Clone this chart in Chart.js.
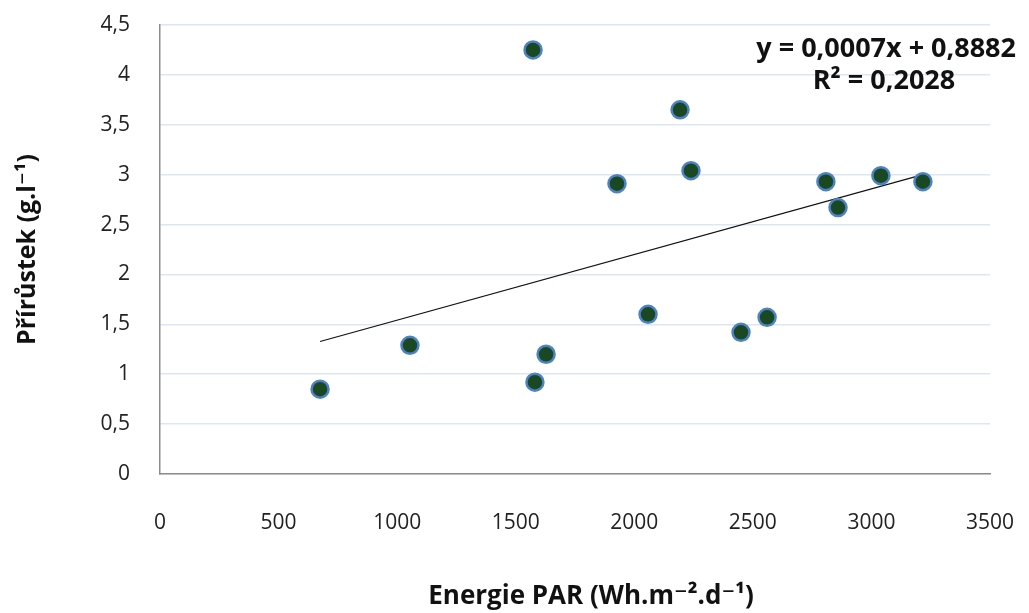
<!DOCTYPE html>
<html>
<head>
<meta charset="utf-8">
<script src="https://cdn.jsdelivr.net/npm/chart.js@4/dist/chart.umd.min.js"></script>
<style>
  html, body { margin: 0; padding: 0; background: #fff; }
  #wrap { width: 1029px; height: 613px; position: relative; }
</style>
</head>
<body>
<div id="wrap"><canvas id="par" width="1029" height="613"></canvas></div>
<script>
// energie PAR vs. prirustek
const energie = [1573, 2193, 1927, 2239, 2808, 2859, 3040, 3217, 2058, 2450, 2560, 1054, 1628, 1581, 675];
const prirustek = [4.25, 3.65, 2.91, 3.04, 2.93, 2.67, 2.99, 2.93, 1.60, 1.42, 1.57, 1.29, 1.20, 0.92, 0.85];
const rovnice = ['y = 0,0007x + 0,8882', 'R² = 0,2028'];
const osaX = 'Energie PAR (Wh.m⁻².d⁻¹)';
const osaY = 'Přírůstek (g.l⁻¹)';

const FONT = "'Open Sans', 'DejaVu Sans', sans-serif";

// least squares line through the points
function fitLine(xs, ys) {
  const n = xs.length;
  const mx = xs.reduce((a, b) => a + b, 0) / n;
  const my = ys.reduce((a, b) => a + b, 0) / n;
  let sxy = 0, sxx = 0;
  for (let i = 0; i < n; i++) {
    sxy += (xs[i] - mx) * (ys[i] - my);
    sxx += (xs[i] - mx) * (xs[i] - mx);
  }
  const k = sxy / sxx;
  return { k: k, q: my - k * mx };
}

const fit = fitLine(energie, prirustek);
const xMin = Math.min(...energie), xMax = Math.max(...energie);
const trend = [
  { x: xMin, y: fit.k * xMin + fit.q },
  { x: xMax, y: fit.k * xMax + fit.q }
];

const points = energie.map((x, i) => ({ x: x, y: prirustek[i] }));

// trendline equation + x axis title (sits a bit right of the axis centre)
const extraText = {
  id: 'extraText',
  afterDatasetsDraw(chart) {
    const ctx = chart.ctx;
    ctx.save();
    ctx.fillStyle = '#111';
    ctx.font = 'bold 27px ' + FONT;
    ctx.textBaseline = 'alphabetic';
    ctx.textAlign = 'right';
    ctx.fillText(rovnice[0], 1016, 57);
    ctx.textAlign = 'center';
    ctx.fillText(rovnice[1], 884, 89);

    ctx.font = 'bold 26px ' + FONT;
    ctx.textBaseline = 'middle';
    ctx.fillText(osaX, 591, 597);
    ctx.restore();
  }
};

const comma = v => String(v).replace('.', ',');

new Chart(document.getElementById('par'), {
  type: 'scatter',
  data: {
    datasets: [
      {
        label: 'Přírůstek',
        data: points,
        pointRadius: 8.5,
        pointBorderWidth: 2.5,
        pointBackgroundColor: '#1a4822',
        pointBorderColor: '#4d82c4',
        order: 1
      },
      {
        label: 'trend',
        type: 'line',
        data: trend,
        borderColor: '#111',
        borderWidth: 1.2,
        pointRadius: 0,
        fill: false,
        order: 2
      }
    ]
  },
  options: {
    responsive: false,
    animation: false,
    devicePixelRatio: 1,
    layout: { padding: { top: 25, right: 39, bottom: 0, left: 0 } },
    plugins: {
      legend: { display: false },
      tooltip: { enabled: false }
    },
    scales: {
      x: {
        type: 'linear',
        min: 0,
        max: 3500,
        ticks: {
          stepSize: 500,
          padding: 36,
          color: '#222',
          font: { family: FONT, size: 21 },
          maxRotation: 0,
          callback: v => String(v)
        },
        grid: { display: false, drawTicks: false },
        border: { color: '#8c8c8c', width: 1.5 },
        afterFit(scale) {
          scale.height = 139;
          scale.paddingLeft = 0;
          scale.paddingRight = 0;
        }
      },
      y: {
        type: 'linear',
        min: 0,
        max: 4.5,
        ticks: {
          stepSize: 0.5,
          padding: 30,
          color: '#222',
          font: { family: FONT, size: 21 },
          callback: v => comma(v)
        },
        grid: { color: '#dde7f3', lineWidth: 1.5, drawTicks: false },
        border: { color: '#8c8c8c', width: 1.5 },
        title: {
          display: true,
          text: osaY,
          color: '#111',
          font: { family: FONT, size: 25, weight: 'bold' },
          padding: { top: 13, bottom: 0 }
        },
        afterFit(scale) {
          scale.width = 160;
          scale.paddingTop = 0;
          scale.paddingBottom = 0;
        }
      }
    }
  },
  plugins: [extraText]
});
</script>
</body>
</html>
